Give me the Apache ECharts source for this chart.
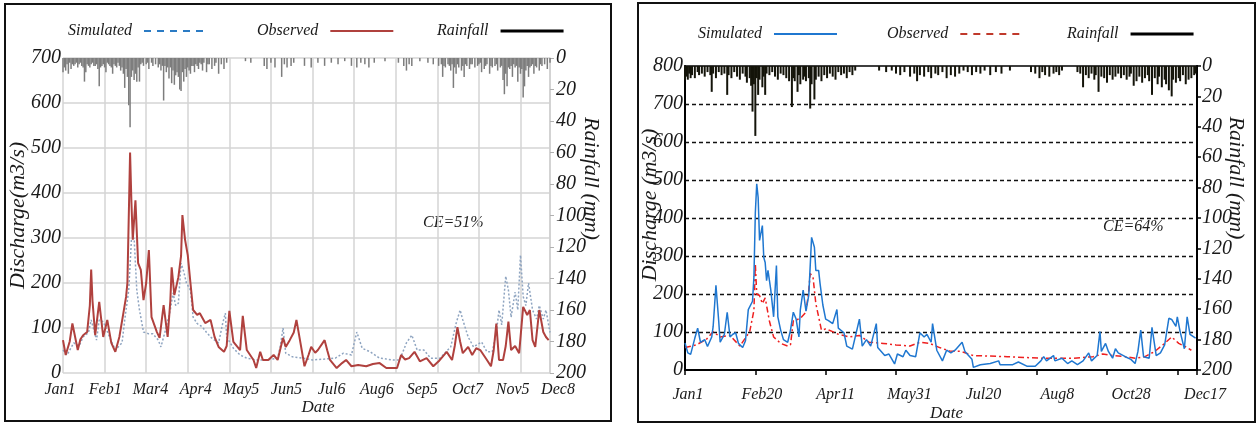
<!DOCTYPE html>
<html>
<head>
<meta charset="utf-8">
<script src="https://cdn.jsdelivr.net/npm/echarts@6/dist/echarts.min.js"></script>
<style>
  html, body { margin: 0; padding: 0; background: #fff; }
  #chart { width: 1258px; height: 425px; }
</style>
</head>
<body>
<div id="chart"></div>
<script>
// tick labels
const leftDates = ['Jan1', 'Feb1', 'Mar4', 'Apr4', 'May5', 'Jun5', 'Jul6', 'Aug6', 'Sep5', 'Oct7', 'Nov5', 'Dec8']
const rightDates = ['Jan1', 'Feb20', 'Apr11', 'May31', 'Jul20', 'Aug8', 'Oct28', 'Dec17']

// left panel, [day, m3/s]
const simLeft = [[0,51],[3,40],[8,67],[12,60],[15,80],[19,90],[21,118],[25,73],[27,118],[30,114],[35,78],[39,51],[44,67],[46,118],[49,184],[51,296],[53,300],[55,184],[57,140],[60,91],[64,87],[67,87],[71,73],[73,58],[77,102],[80,140],[82,178],[84,150],[86,155],[88,244],[90,225],[92,200],[95,184],[97,124],[100,110],[104,102],[107,90],[110,80],[113,73],[116,67],[119,110],[121,133],[122,80],[127,55],[132,40],[137,33],[144,29],[152,29],[160,33],[162,60],[164,100],[166,44],[171,36],[179,33],[186,29],[195,31],[203,33],[209,44],[215,40],[219,91],[223,55],[229,47],[236,33],[246,29],[251,29],[256,67],[260,84],[264,51],[269,51],[274,33],[281,33],[289,58],[293,110],[296,140],[298,118],[302,80],[306,58],[312,69],[316,47],[320,47],[323,90],[325,140],[327,107],[330,215],[332,184],[334,124],[337,180],[339,140],[341,262],[343,170],[345,150],[347,200],[350,140],[353,120],[355,150],[358,120],[360,140],[363,90]]
const obsLeft = [[0,73],[2,40],[5,70],[7,110],[11,51],[13,75],[15,84],[18,91],[20,150],[21,230],[22,160],[24,84],[27,158],[30,80],[33,118],[36,67],[39,47],[42,80],[45,133],[47,169],[48,200],[50,490],[51,380],[52,296],[54,384],[56,244],[58,229],[60,162],[62,200],[64,273],[66,124],[70,91],[72,78],[75,151],[78,80],[80,160],[81,235],[83,173],[86,213],[88,260],[89,351],[91,296],[93,262],[95,200],[97,140],[100,129],[102,133],[106,111],[110,118],[113,80],[116,58],[120,47],[122,60],[124,138],[127,69],[132,51],[134,127],[137,51],[142,29],[144,11],[147,47],[149,29],[153,29],[157,40],[160,29],[164,78],[166,58],[169,73],[172,90],[174,118],[177,67],[180,15],[183,40],[185,58],[188,45],[190,51],[195,73],[197,50],[199,29],[204,11],[208,22],[211,29],[215,15],[220,18],[226,15],[231,20],[236,22],[241,11],[249,11],[252,40],[255,30],[258,33],[262,47],[266,26],[271,33],[276,15],[280,26],[286,47],[290,29],[292,60],[294,102],[296,70],[298,44],[302,58],[305,40],[308,55],[311,51],[316,29],[319,15],[321,50],[323,110],[325,29],[328,29],[330,60],[332,114],[334,51],[337,60],[340,44],[343,147],[346,129],[348,140],[350,73],[352,58],[355,140],[358,91],[360,80],[362,73]]
// [day, mm]
const rainLeft = [[0,9],[1,6],[2,8],[3,4],[4,10],[5,3],[6,7],[7,4],[8,5],[9,4],[10,3],[11,6],[12,4],[13,3],[14,5],[15,6],[16,15],[17,9],[18,4],[19,5],[20,6],[21,4],[22,3],[23,5],[24,5],[25,4],[26,7],[27,18],[28,6],[29,5],[30,4],[31,6],[32,9],[33,3],[34,4],[35,5],[36,6],[37,10],[38,4],[39,5],[40,6],[41,3],[42,5],[43,8],[44,6],[45,10],[46,19],[47,7],[48,12],[49,30],[50,44],[51,12],[52,8],[53,14],[54,10],[55,15],[56,6],[57,15],[58,4],[59,3],[60,5],[62,4],[63,3],[64,7],[66,3],[67,5],[69,4],[71,6],[72,4],[73,8],[74,5],[75,27],[76,5],[77,9],[78,6],[79,13],[80,6],[81,16],[82,8],[83,17],[84,11],[85,9],[86,12],[87,20],[88,21],[89,9],[90,15],[91,7],[92,12],[93,6],[94,8],[95,10],[96,5],[97,5],[98,9],[99,4],[100,5],[101,7],[102,3],[103,4],[104,8],[105,3],[107,9],[108,4],[109,4],[111,7],[113,5],[114,3],[116,10],[118,4],[120,7],[122,3],[136,2],[140,3],[150,5],[152,7],[155,3],[158,6],[163,12],[165,4],[167,6],[170,5],[172,3],[180,5],[185,6],[190,3],[195,5],[200,3],[205,4],[210,2],[215,5],[219,6],[222,3],[225,4],[228,6],[232,3],[240,2],[250,3],[254,5],[256,8],[258,4],[260,5],[266,2],[272,3],[276,4],[280,5],[282,4],[283,12],[284,5],[285,6],[287,4],[288,5],[289,8],[290,4],[291,19],[292,6],[293,10],[294,4],[295,6],[297,8],[298,5],[299,12],[300,4],[301,5],[303,7],[304,4],[305,4],[307,6],[309,5],[310,4],[311,3],[312,9],[314,7],[315,5],[316,4],[318,10],[319,5],[320,6],[322,5],[323,4],[324,8],[326,6],[327,5],[328,14],[329,23],[330,10],[331,18],[332,6],[333,7],[334,5],[335,12],[336,4],[337,6],[338,5],[339,15],[340,6],[341,10],[342,7],[343,25],[344,18],[345,8],[346,5],[347,12],[348,6],[349,5],[350,4],[351,10],[352,5],[353,6],[355,8],[356,4],[357,5],[359,4],[361,7],[363,3]]

// right panel
const simRight = [[0,71],[2,45],[4,41],[7,84],[9,110],[11,73],[14,80],[16,62],[19,87],[20,114],[22,223],[24,127],[25,73],[28,94],[30,152],[32,87],[34,94],[36,98],[38,70],[41,59],[43,77],[45,159],[48,181],[49,245],[50,414],[51,490],[52,454],[53,341],[55,380],[56,296],[57,283],[58,235],[59,262],[61,210],[63,140],[65,275],[66,140],[68,105],[70,80],[73,73],[75,105],[77,152],[79,134],[81,87],[82,159],[84,210],[86,155],[88,197],[90,349],[92,323],[93,262],[95,262],[96,228],[98,171],[100,134],[102,130],[105,122],[108,159],[109,110],[113,98],[115,63],[119,55],[124,134],[126,63],[129,80],[132,63],[136,122],[137,59],[142,38],[145,42],[149,16],[151,42],[155,35],[157,52],[160,38],[164,35],[167,98],[170,87],[172,94],[175,73],[176,122],[179,52],[183,24],[186,52],[189,45],[192,52],[197,73],[199,49],[204,28],[205,7],[210,14],[217,17],[223,24],[224,14],[233,14],[237,21],[243,10],[249,10],[253,24],[255,35],[257,24],[262,38],[263,24],[268,31],[272,17],[275,24],[279,14],[283,24],[287,45],[289,24],[293,38],[295,101],[296,49],[299,70],[301,49],[304,31],[306,56],[308,45],[313,35],[317,28],[320,17],[322,49],[324,105],[326,35],[330,31],[332,112],[335,38],[338,45],[341,66],[344,136],[346,133],[349,115],[350,140],[352,101],[355,56],[357,140],[359,94],[363,84]]
const obsRight = [[0,59],[8,66],[15,80],[20,101],[25,87],[32,91],[39,63],[46,101],[49,157],[50,280],[51,200],[53,196],[55,175],[57,190],[60,129],[63,87],[68,70],[73,63],[75,66],[77,129],[82,136],[86,152],[88,210],[89,254],[91,245],[93,175],[95,140],[97,105],[100,108],[105,101],[109,94],[117,87],[124,91],[131,73],[141,70],[150,66],[160,63],[167,73],[174,70],[181,59],[188,50],[196,49],[205,38],[229,35],[253,31],[276,31],[290,35],[297,42],[304,38],[313,35],[320,31],[327,35],[334,49],[341,70],[346,87],[351,70],[355,63],[360,52]]
const rainRight = [[0,9],[1,7],[2,9],[3,5],[4,8],[5,6],[7,8],[9,4],[10,6],[12,5],[14,7],[16,4],[18,6],[19,17],[20,5],[22,8],[24,4],[26,6],[28,5],[30,19],[31,6],[33,8],[35,4],[37,7],[39,9],[41,5],[43,7],[44,11],[46,8],[47,13],[48,30],[49,12],[50,46],[51,8],[52,19],[53,9],[55,14],[56,7],[57,19],[58,5],[60,6],[62,4],[64,7],[66,9],[68,5],[70,6],[72,8],[74,10],[76,27],[77,8],[78,10],[80,17],[81,6],[82,12],[84,9],[85,7],[86,10],[88,8],[89,28],[90,12],[92,22],[93,9],[95,7],[97,10],[99,6],[101,8],[103,5],[105,7],[107,9],[109,4],[111,6],[113,5],[115,8],[117,4],[119,6],[121,3],[138,3],[143,4],[147,3],[150,5],[153,6],[156,4],[160,7],[163,5],[165,10],[167,6],[170,7],[173,4],[175,8],[178,5],[180,6],[183,4],[186,8],[189,6],[192,7],[195,5],[198,3],[201,4],[204,6],[207,4],[210,5],[213,3],[217,6],[221,4],[225,5],[231,3],[246,4],[249,5],[252,8],[254,4],[256,6],[259,7],[262,5],[264,4],[266,6],[268,3],[279,4],[281,5],[283,14],[285,6],[287,8],[289,5],[291,9],[292,6],[294,17],[296,7],[298,8],[300,11],[302,6],[304,9],[306,7],[308,5],[310,8],[312,6],[314,9],[316,7],[317,5],[319,13],[321,10],[323,7],[325,11],[327,8],[329,6],[330,10],[332,19],[334,8],[336,12],[337,7],[339,14],[341,9],[342,12],[344,16],[346,20],[347,9],[349,11],[351,8],[352,10],[354,6],[356,12],[358,9],[360,8],[362,6],[363,5]]

const FONT = '"Liberation Serif", "DejaVu Serif", serif'
const INK = '#1a1a1a'

const chart = echarts.init(document.getElementById('chart'))

const ital = (size, extra) => Object.assign({ fontFamily: FONT, fontStyle: 'italic', fontSize: size, color: INK }, extra || {})

// one legend per entry so each can sit where the original put it
const legendItem = (name, label, left, top, style) => ({
  left, top, padding: 0, align: 'right', itemWidth: 63, itemHeight: 20,
  selectedMode: false,
  formatter: () => label,
  textStyle: ital(16, { padding: [0, 7, 0, 0] }),
  data: [Object.assign({ name }, style)]
})
const noSymbol = { opacity: 0 }

chart.setOption({
  animation: false,
  textStyle: { fontFamily: FONT },
  grid: [
    { left: 63, top: 58, width: 487, height: 315 },
    { left: 60, top: 370, width: 498, height: 1 },
    { left: 685, top: 66, width: 512, height: 304, show: true, borderColor: '#000', borderWidth: 1.5 },
    { left: 688, top: 370, width: 517, height: 1 }
  ],
  legend: [
    legendItem('SimL', 'Simulated', 68, 23, { lineStyle: { color: '#2b7bc4', type: [7, 6], width: 2 }, itemStyle: noSymbol }),
    legendItem('ObsL', 'Observed', 257, 23, { lineStyle: { color: '#b0413e', width: 2 }, itemStyle: noSymbol }),
    legendItem('RainL', 'Rainfall', 437, 23, { icon: 'path://M0,0H63V3H0Z', itemStyle: { color: '#000' } }),
    legendItem('SimR', 'Simulated', 698, 26, { lineStyle: { color: '#1f77d0', width: 2 }, itemStyle: noSymbol }),
    legendItem('ObsR', 'Observed', 887, 26, { lineStyle: { color: '#c0392b', type: [7, 6], width: 2 }, itemStyle: noSymbol }),
    legendItem('RainR', 'Rainfall', 1067, 26, { icon: 'path://M0,0H63V3H0Z', itemStyle: { color: '#000' } })
  ],
  xAxis: [
    {
      gridIndex: 0, type: 'value', min: 0, max: 363, interval: 31,
      axisLine: { show: false }, axisTick: { show: false }, axisLabel: { show: false },
      splitLine: { show: true, lineStyle: { color: '#d4d4d4', width: 1.5 } }
    },
    {
      gridIndex: 1, type: 'category', data: leftDates, boundaryGap: false,
      axisLine: { show: false }, axisTick: { show: false },
      axisLabel: ital(16, { margin: 11, interval: 0 }),
      name: 'Date', nameLocation: 'middle', nameGap: 28, nameMoveOverlap: false,
      nameTextStyle: ital(17, { padding: [0, 0, 0, 18] })
    },
    {
      gridIndex: 2, type: 'value', min: 0, max: 364, interval: 50,
      axisLine: { show: true, lineStyle: { color: '#000', width: 2 } },
      axisTick: { show: true, length: 5, lineStyle: { color: '#000', width: 1.5 } },
      axisLabel: { show: false }, splitLine: { show: false }
    },
    {
      gridIndex: 3, type: 'category', data: rightDates, boundaryGap: false,
      axisLine: { show: false }, axisTick: { show: false },
      axisLabel: ital(16, { margin: 16, interval: 0 }),
      name: 'Date', nameLocation: 'middle', nameGap: 34, nameMoveOverlap: false,
      nameTextStyle: ital(17)
    }
  ],
  yAxis: [
    {
      gridIndex: 0, type: 'value', min: 0, max: 700, interval: 100,
      axisLine: { show: false }, axisTick: { show: false },
      axisLabel: ital(20, { margin: 2 }),
      splitLine: { show: true, lineStyle: { color: '#d4d4d4', width: 1.5 } },
      name: 'Discharge(m3/s)', nameLocation: 'middle', nameRotate: 90, nameGap: 34, nameMoveOverlap: false,
      nameTextStyle: ital(22)
    },
    {
      gridIndex: 0, type: 'value', position: 'right', inverse: true, min: 0, max: 200, interval: 20,
      axisLine: { show: true, lineStyle: { color: '#cfcfcf', width: 1.5 } },
      axisTick: { show: true, length: 4, lineStyle: { color: '#b0b0b0' } },
      axisLabel: ital(20, { margin: 6 }),
      splitLine: { show: false },
      name: 'Rainfall (mm)', nameLocation: 'middle', nameRotate: -90, nameGap: 30, nameMoveOverlap: false,
      nameTextStyle: ital(22, { padding: [0, 74, 0, 0] })
    },
    { gridIndex: 1, type: 'value', show: false },
    {
      gridIndex: 2, type: 'value', min: 0, max: 800, interval: 100,
      axisLine: { show: true, lineStyle: { color: '#000', width: 2 } }, axisTick: { show: false },
      axisLabel: ital(20, { margin: 2 }),
      splitLine: { show: true, showMinLine: false, showMaxLine: false, lineStyle: { color: '#111', type: [4, 3], width: 1.4 } },
      name: 'Discharge (m3/s)', nameLocation: 'middle', nameRotate: 90, nameGap: 24, nameMoveOverlap: false,
      nameTextStyle: ital(22, { padding: [0, 0, 0, 26] })
    },
    {
      gridIndex: 2, type: 'value', position: 'right', inverse: true, min: 0, max: 200, interval: 20,
      axisLine: { show: true, lineStyle: { color: '#000', width: 2 } },
      axisTick: { show: true, length: 4, lineStyle: { color: '#000', width: 1.5 } },
      axisLabel: ital(20, { margin: 5 }),
      splitLine: { show: false },
      name: 'Rainfall (mm)', nameLocation: 'middle', nameRotate: -90, nameGap: 28, nameMoveOverlap: false,
      nameTextStyle: ital(22, { padding: [0, 80, 0, 0] })
    },
    { gridIndex: 3, type: 'value', show: false }
  ],
  graphic: [
    { type: 'rect', shape: { x: 5, y: 4, width: 606, height: 417 }, style: { fill: 'none', stroke: '#111', lineWidth: 2 }, z: 0 },
    { type: 'rect', shape: { x: 638, y: 3, width: 617, height: 419 }, style: { fill: 'none', stroke: '#111', lineWidth: 2 }, z: 0 },
    { type: 'text', left: 423, top: 215, style: { text: 'CE=51%', font: 'italic 16px ' + FONT, fill: INK } },
    { type: 'text', left: 1103, top: 219, style: { text: 'CE=64%', font: 'italic 16px ' + FONT, fill: INK } }
  ],
  series: [
    { name: 'RainL', type: 'bar', xAxisIndex: 0, yAxisIndex: 1, data: rainLeft, barWidth: 1.5, itemStyle: { color: '#7d7d7d' } },
    { name: 'SimL', type: 'line', xAxisIndex: 0, yAxisIndex: 0, data: simLeft, symbol: 'none',
      lineStyle: { color: '#8ea4c0', width: 1.5, type: [2, 2] } },
    { name: 'ObsL', type: 'line', xAxisIndex: 0, yAxisIndex: 0, data: obsLeft, symbol: 'none',
      lineStyle: { color: '#b0413e', width: 2 } },
    { name: 'RainR', type: 'bar', xAxisIndex: 2, yAxisIndex: 4, data: rainRight, barWidth: 2, itemStyle: { color: '#14140a' } },
    { name: 'ObsR', type: 'line', xAxisIndex: 2, yAxisIndex: 3, data: obsRight, symbol: 'none',
      lineStyle: { color: '#ee2020', width: 1.5, type: [6, 3, 2, 3] } },
    { name: 'SimR', type: 'line', xAxisIndex: 2, yAxisIndex: 3, data: simRight, symbol: 'none',
      lineStyle: { color: '#1f77d0', width: 1.5 } }
  ]
})

window.addEventListener('resize', () => chart.resize())
</script>
</body>
</html>
